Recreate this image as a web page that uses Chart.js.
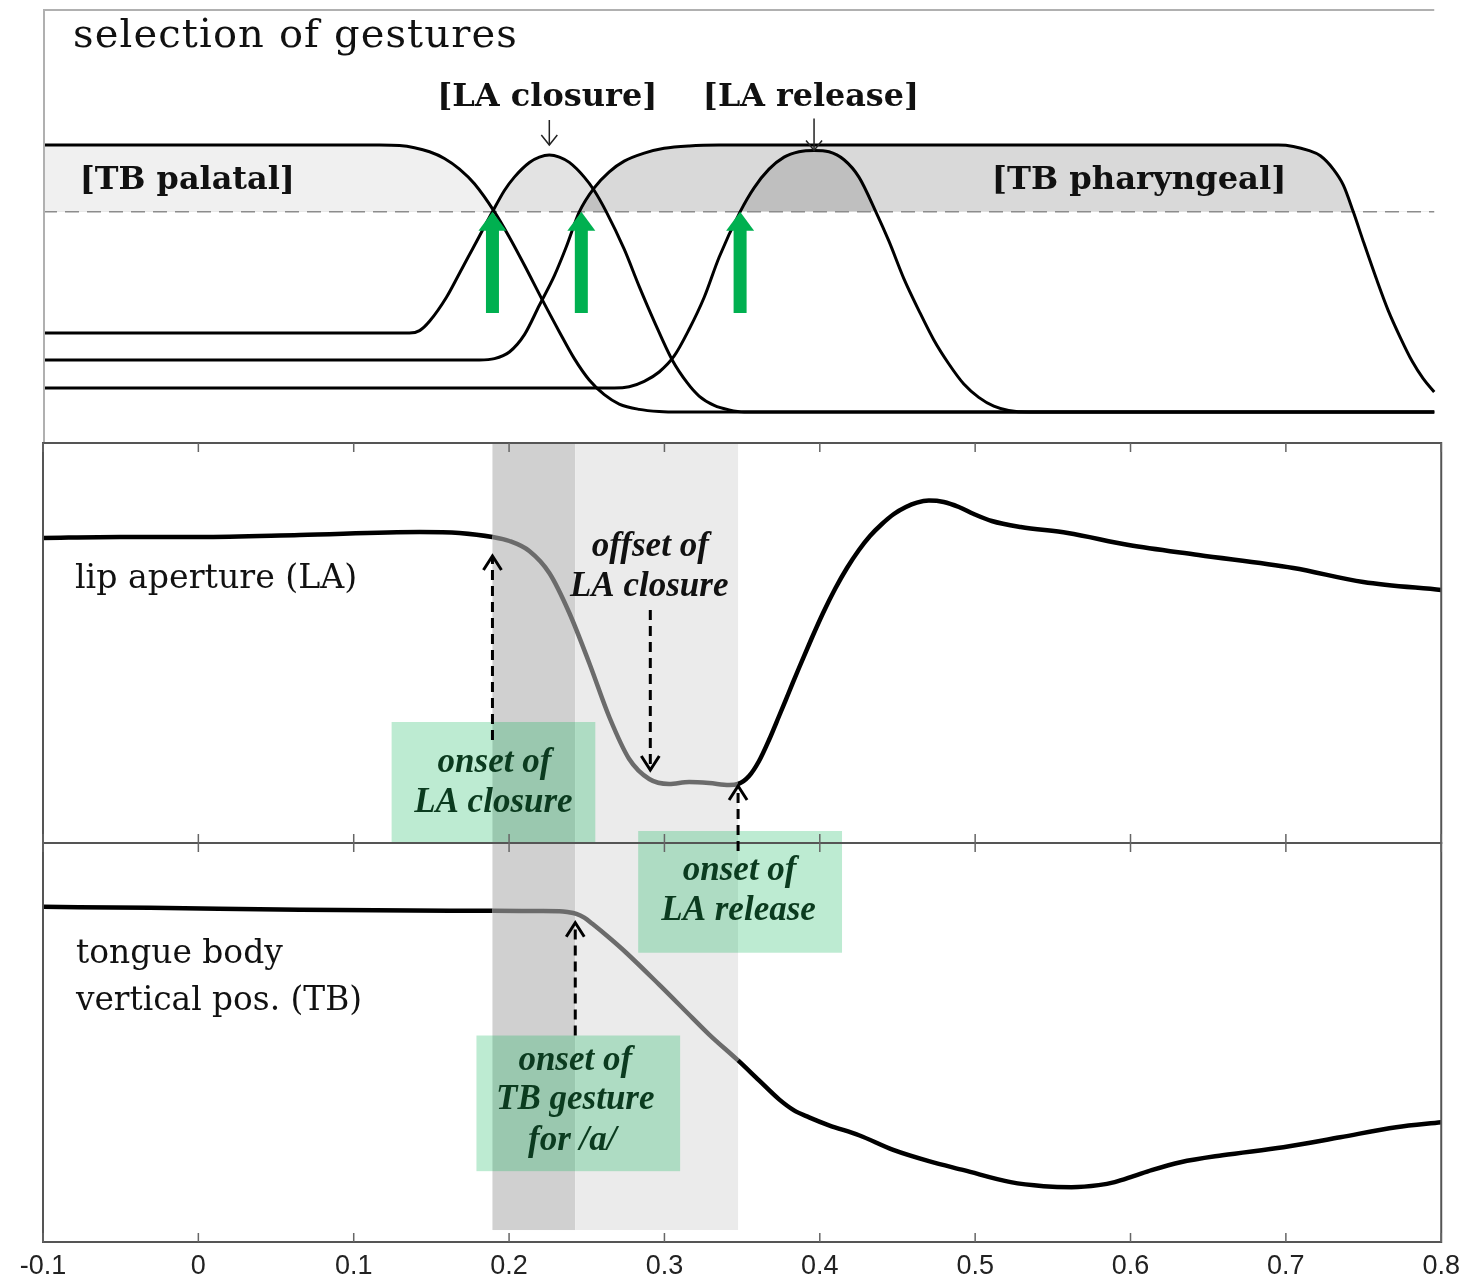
<!DOCTYPE html>
<html>
<head>
<meta charset="utf-8">
<title>selection of gestures</title>
<script src="https://cdn.jsdelivr.net/npm/chart.js@4.4.1/dist/chart.umd.min.js"></script>
<style>
  html, body { margin: 0; padding: 0; background: #fff; }
</style>
</head>
<body>
<canvas id="gestures" width="1468" height="1280"></canvas>
<script>
// time axis (s)
var timeTicks = [-0.1, 0, 0.1, 0.2, 0.3, 0.4, 0.5, 0.6, 0.7, 0.8];

// top panel: gestural activation curves (0 = inactive, 1 = fully active)
var palatalTime = [-0.1, 0.1166, 0.1295, 0.1391, 0.1488, 0.1584, 0.1681, 0.1777, 0.1906, 0.2002, 0.2099, 0.2214, 0.2324, 0.2420, 0.2516, 0.2613, 0.2709, 0.2838, 0.2966, 0.3095, 0.7955];
var palatalAct  = [1.0, 1.0, 0.998, 0.99, 0.975, 0.95, 0.91, 0.855, 0.75, 0.655, 0.55, 0.42, 0.30, 0.20, 0.12, 0.065, 0.03, 0.01, 0.002, 0, 0];

var closureTime = [-0.1, 0.1359, 0.1424, 0.1488, 0.1597, 0.1681, 0.1764, 0.1893, 0.1970, 0.2034, 0.2131, 0.2195, 0.2259, 0.2324, 0.2388, 0.2484, 0.2548, 0.2626, 0.2741, 0.2838, 0.2934, 0.3050, 0.3146, 0.3223, 0.3320, 0.3416, 0.3513, 0.7955];
var closureAct  = [0.296, 0.296, 0.305, 0.34, 0.43, 0.52, 0.61, 0.75, 0.83, 0.88, 0.935, 0.955, 0.963, 0.955, 0.935, 0.88, 0.83, 0.75, 0.61, 0.47, 0.34, 0.195, 0.11, 0.06, 0.025, 0.008, 0, 0];

var pharyngealTime = [-0.1, 0.1809, 0.1906, 0.2002, 0.2099, 0.2195, 0.2291, 0.2369, 0.2452, 0.2548, 0.2645, 0.2741, 0.2870, 0.2998, 0.3159, 0.3352, 0.6952, 0.7048, 0.7145, 0.7222, 0.7305, 0.7370, 0.7434, 0.7498, 0.7582, 0.7659, 0.7736, 0.7813, 0.7884, 0.7955];
var pharyngealAct  = [0.195, 0.195, 0.20, 0.225, 0.29, 0.40, 0.51, 0.62, 0.75, 0.84, 0.90, 0.94, 0.97, 0.988, 0.997, 1.0, 1.0, 0.995, 0.98, 0.96, 0.91, 0.85, 0.75, 0.64, 0.50, 0.38, 0.28, 0.19, 0.125, 0.075];

var releaseTime = [-0.1, 0.2677, 0.2773, 0.2870, 0.2966, 0.3063, 0.3159, 0.3256, 0.3352, 0.3487, 0.3577, 0.3673, 0.3770, 0.3866, 0.3963, 0.4059, 0.4156, 0.4252, 0.4361, 0.4445, 0.4541, 0.4638, 0.4734, 0.4831, 0.4927, 0.5023, 0.5120, 0.5216, 0.5345, 0.7955];
var releaseAct  = [0.09, 0.09, 0.095, 0.115, 0.15, 0.21, 0.31, 0.43, 0.58, 0.75, 0.84, 0.91, 0.955, 0.975, 0.98, 0.975, 0.945, 0.88, 0.75, 0.64, 0.50, 0.38, 0.27, 0.18, 0.105, 0.055, 0.022, 0.006, 0, 0];

var thresholdTime = [-0.1, 0.7955];
var thresholdAct  = [0.75, 0.75];

// middle panel: lip aperture
var lipTime = [-0.1, -0.0505, 0.0009, 0.0652, 0.1424, 0.168, 0.1893, 0.2002, 0.213, 0.2259, 0.2388, 0.2516, 0.2645, 0.2773, 0.2902, 0.303, 0.3159, 0.3288, 0.3416, 0.3474, 0.3545, 0.3609, 0.3673, 0.3738, 0.3802, 0.3866, 0.3943, 0.4021, 0.4098, 0.4175, 0.4252, 0.4323, 0.4400, 0.4477, 0.4554, 0.4625, 0.4702, 0.4798, 0.4895, 0.4991, 0.5107, 0.5293, 0.5596, 0.5988, 0.6438, 0.7048, 0.7498, 0.8];
var lipAperture = [76.25, 76.5, 76.5, 77, 77.75, 77.5, 76.5, 75.5, 73, 67.5, 57.5, 45, 31.5, 21, 16, 14.75, 15.25, 15, 14.5, 14.75, 16.75, 20.5, 25.75, 31.75, 37.75, 43.75, 50.75, 57.5, 63.5, 68.75, 73.25, 76.75, 79.75, 82.25, 84, 85.1, 85.6, 85.25, 84, 82.25, 80.5, 79, 77.5, 74.5, 72, 68.75, 65.25, 63.25];

// bottom panel: tongue body vertical position
var tongueTime = [-0.1, -0.0312, 0.0652, 0.1616, 0.1893, 0.2195, 0.2324, 0.2375, 0.2433, 0.2484, 0.2536, 0.2645, 0.2754, 0.2966, 0.3178, 0.3288, 0.3474, 0.3609, 0.3738, 0.3834, 0.3931, 0.4059, 0.4252, 0.4477, 0.4702, 0.4927, 0.5229, 0.5441, 0.5621, 0.5795, 0.5898, 0.6020, 0.6136, 0.6322, 0.6592, 0.6984, 0.7350, 0.7710, 0.8];
var tongueBody = [84, 83.75, 83.25, 83, 83, 82.95, 82.9, 82.7, 82.25, 81.3, 79.75, 76.25, 72.5, 64.5, 56.25, 52, 45.5, 40.5, 35.75, 33, 31.25, 29.25, 26.75, 23, 20.25, 18, 15, 14, 13.75, 14.25, 15, 16.5, 18, 20, 21.75, 23.75, 26.25, 28.75, 30];

// shaded intervals (s)
var closureOnset = 0.1893, tbOnset = 0.2426, releaseOnset = 0.3474;

function pairUp(ts, vs) {
    return ts.map(function (t, i) { return {x: t, y: vs[i]}; });
}

function traceColor(ctx) {
    var x = ctx.p0.parsed.x;
    return (x >= closureOnset - 1e-6 && x < releaseOnset - 1e-6) ? '#6b6b6b' : '#000';
}

var serif = "'DejaVu Serif', serif";
var timesLike = "'Liberation Serif', serif";
var darkGreen = '#0b3b1f';

var labels = [
    {text: 'selection of gestures', t: -0.0807, axis: 'yTop', v: 1.408, align: 'left', font: 'normal 40px ' + serif, spread: 445},
    {text: '[LA closure]', t: 0.2246, axis: 'yTop', v: 1.176, align: 'center', font: 'bold', family: serif, fit: 220},
    {text: '[LA release]', t: 0.3943, axis: 'yTop', v: 1.176, align: 'center', font: 'bold', family: serif, fit: 216},
    {text: '[TB palatal]', t: -0.0071, axis: 'yTop', v: 0.866, align: 'center', font: 'bold', family: serif, fit: 215},
    {text: '[TB pharyngeal]', t: 0.6055, axis: 'yTop', v: 0.866, align: 'center', font: 'bold', family: serif, fit: 295},
    {text: 'lip aperture (LA)', t: -0.0794, axis: 'yLA', v: 66, align: 'left', font: 'normal', family: serif, fit: 282},
    {text: 'offset of', t: 0.2909, axis: 'yLA', v: 74, align: 'center', font: 'italic bold 35px ' + timesLike},
    {text: 'LA closure', t: 0.2902, axis: 'yLA', v: 64, align: 'center', font: 'italic bold 35px ' + timesLike},
    {text: 'onset of', t: 0.1906, axis: 'yLA', v: 20, align: 'center', font: 'italic bold 35px ' + timesLike, color: darkGreen},
    {text: 'LA closure', t: 0.1899, axis: 'yLA', v: 10, align: 'center', font: 'italic bold 35px ' + timesLike, color: darkGreen},
    {text: 'onset of', t: 0.3484, axis: 'yTB', v: 93, align: 'center', font: 'italic bold 35px ' + timesLike, color: darkGreen},
    {text: 'LA release', t: 0.3477, axis: 'yTB', v: 83, align: 'center', font: 'italic bold 35px ' + timesLike, color: darkGreen},
    {text: 'tongue body', t: -0.0788, axis: 'yTB', v: 72, align: 'left', font: 'normal', family: serif, fit: 207},
    {text: 'vertical pos. (TB)', t: -0.0788, axis: 'yTB', v: 60.25, align: 'left', font: 'normal', family: serif, fit: 286},
    {text: 'onset of', t: 0.2426, axis: 'yTB', v: 45.5, align: 'center', font: 'italic bold 35px ' + timesLike, color: darkGreen},
    {text: 'TB gesture', t: 0.2426, axis: 'yTB', v: 35.5, align: 'center', font: 'italic bold 35px ' + timesLike, color: darkGreen},
    {text: 'for /a/', t: 0.2407, axis: 'yTB', v: 25.25, align: 'center', font: 'italic bold 35px ' + timesLike, color: darkGreen}
];

var greenBoxes = [
    {t0: 0.1244, t1: 0.2555, top: ['yLA', 30.25], bottom: ['yLA', 0]},
    {t0: 0.2831, t1: 0.4143, top: ['yLA', 3], bottom: ['yTB', 72.5]},
    {t0: 0.179, t1: 0.3101, top: ['yTB', 51.75], bottom: ['yTB', 17.75]}
];

// dashed arrows: head at "to"
var dashedArrows = [
    {t: 0.1893, from: ['yLA', 25.75], to: ['yLA', 71.75]},
    {t: 0.2909, from: ['yLA', 58.25], to: ['yLA', 18.25]},
    {t: 0.3474, from: ['yTB', 98], to: ['yLA', 14.25]},
    {t: 0.2426, from: ['yTB', 51.75], to: ['yTB', 80]}
];

var greenArrows = [0.1893, 0.2465, 0.3487];
var pointerArrows = [{t: 0.2259, from: 1.094, to: 1.0}, {t: 0.3963, from: 1.10, to: 0.98}];

function yPix(chart, ref) {
    return chart.scales[ref[0]].getPixelForValue(ref[1]);
}

function chevron(ctx, x, y, dir) {
    // dir = -1 points up, 1 points down
    ctx.beginPath();
    ctx.moveTo(x - 9, y - dir * 14);
    ctx.lineTo(x, y);
    ctx.lineTo(x + 9, y - dir * 14);
    ctx.stroke();
}

var decorations = {
    id: 'decorations',
    beforeDatasetsDraw: function (chart) {
        var ctx = chart.ctx, xs = chart.scales.x;
        var top = chart.scales.yLA.top, bottom = chart.scales.yTB.getPixelForValue(3);
        ctx.save();
        ctx.fillStyle = '#d0d0d0';
        ctx.fillRect(xs.getPixelForValue(closureOnset), top, xs.getPixelForValue(tbOnset) - xs.getPixelForValue(closureOnset), bottom - top);
        ctx.fillStyle = '#ebebeb';
        ctx.fillRect(xs.getPixelForValue(tbOnset), top, xs.getPixelForValue(releaseOnset) - xs.getPixelForValue(tbOnset), bottom - top);
        ctx.restore();
    },
    afterDatasetsDraw: function (chart) {
        var ctx = chart.ctx, xs = chart.scales.x, area = chart.chartArea;
        var yTop = chart.scales.yTop, yLA = chart.scales.yLA, yTB = chart.scales.yTB;
        ctx.save();

        // green boxes
        ctx.fillStyle = 'rgba(0,176,80,0.26)';
        greenBoxes.forEach(function (b) {
            var x0 = xs.getPixelForValue(b.t0), x1 = xs.getPixelForValue(b.t1);
            var y0 = yPix(chart, b.top), y1 = yPix(chart, b.bottom);
            ctx.fillRect(x0, y0, x1 - x0, y1 - y0);
        });

        // top panel frame
        var rightEnd = xs.getPixelForValue(0.7955);
        ctx.strokeStyle = '#b0b0b0';
        ctx.lineWidth = 2;
        ctx.beginPath();
        ctx.moveTo(area.left + 1, yTop.bottom);
        ctx.lineTo(area.left + 1, area.top);
        ctx.lineTo(rightEnd, area.top);
        ctx.stroke();

        // lower panel frames and inward ticks
        ctx.strokeStyle = '#555';
        ctx.lineWidth = 2;
        ctx.strokeRect(area.left, yLA.top, area.right - area.left, yLA.bottom - yLA.top);
        ctx.strokeRect(area.left, yTB.top, area.right - area.left, yTB.bottom - yTB.top);
        ctx.lineWidth = 1.5;
        ctx.strokeStyle = '#666';
        timeTicks.forEach(function (t) {
            var x = xs.getPixelForValue(t);
            [yLA, yTB].forEach(function (s) {
                ctx.beginPath();
                ctx.moveTo(x, s.top);
                ctx.lineTo(x, s.top + 9);
                ctx.moveTo(x, s.bottom);
                ctx.lineTo(x, s.bottom - 9);
                ctx.stroke();
            });
        });

        // green onset arrows in the top panel
        ctx.fillStyle = '#00b050';
        greenArrows.forEach(function (t) {
            var x = xs.getPixelForValue(t);
            var tip = yTop.getPixelForValue(0.75), tail = yTop.getPixelForValue(0.371);
            ctx.fillRect(x - 6.5, tip + 18, 13, tail - tip - 18);
            ctx.beginPath();
            ctx.moveTo(x - 14, tip + 19);
            ctx.lineTo(x, tip);
            ctx.lineTo(x + 14, tip + 19);
            ctx.closePath();
            ctx.fill();
        });

        // thin pointers to the peaks
        ctx.strokeStyle = '#222';
        ctx.lineWidth = 1.5;
        pointerArrows.forEach(function (a) {
            var x = xs.getPixelForValue(a.t);
            var y0 = yTop.getPixelForValue(a.from), y1 = yTop.getPixelForValue(a.to);
            ctx.beginPath();
            ctx.moveTo(x, y0);
            ctx.lineTo(x, y1);
            ctx.stroke();
            ctx.beginPath();
            ctx.moveTo(x - 8, y1 - 10);
            ctx.lineTo(x, y1);
            ctx.lineTo(x + 8, y1 - 10);
            ctx.stroke();
        });

        // dashed arrows
        ctx.strokeStyle = '#000';
        ctx.lineWidth = 3;
        dashedArrows.forEach(function (a) {
            var x = xs.getPixelForValue(a.t);
            var y0 = yPix(chart, a.from), y1 = yPix(chart, a.to);
            var dir = y1 > y0 ? 1 : -1;
            ctx.setLineDash([10, 6]);
            ctx.beginPath();
            ctx.moveTo(x, y0);
            ctx.lineTo(x, y1 - dir * 2);
            ctx.stroke();
            ctx.setLineDash([]);
            chevron(ctx, x, y1, dir);
        });

        // text
        ctx.textBaseline = 'middle';
        labels.forEach(function (l) {
            var x = xs.getPixelForValue(l.t);
            var y = chart.scales[l.axis].getPixelForValue(l.v);
            if (l.fit) {
                ctx.font = l.font + ' 40px ' + l.family;
                var w = ctx.measureText(l.text).width;
                ctx.font = l.font + ' ' + (40 * l.fit / w).toFixed(1) + 'px ' + l.family;
            } else {
                ctx.font = l.font;
            }
            if (l.spread) {
                var w0 = ctx.measureText(l.text).width;
                ctx.letterSpacing = ((l.spread - w0) / l.text.length).toFixed(2) + 'px';
            }
            ctx.textAlign = l.align;
            ctx.fillStyle = l.color || '#111';
            ctx.fillText(l.text, x, y);
            ctx.letterSpacing = '0px';
        });

        ctx.restore();
    }
};

var hiddenY = function (min, max, weight) {
    return {
        type: 'linear',
        position: 'left',
        stack: 'panels',
        stackWeight: weight,
        min: min,
        max: max,
        ticks: {display: false},
        grid: {display: false, drawTicks: false},
        border: {display: false},
        afterFit: function (s) { s.width = 0; }
    };
};

var activation = function (label, ts, vs, shade) {
    return {
        label: label,
        data: pairUp(ts, vs),
        yAxisID: 'yTop',
        borderColor: '#000',
        borderWidth: 3,
        pointRadius: 0,
        cubicInterpolationMode: 'monotone',
        fill: {target: {value: 0.75}, above: shade, below: 'rgba(0,0,0,0)'}
    };
};

var ctx = document.getElementById('gestures').getContext('2d');
var chart = new Chart(ctx, {
    type: 'line',
    data: {
        datasets: [
            activation('[TB palatal]', palatalTime, palatalAct, 'rgba(0,0,0,0.06)'),
            activation('[LA closure]', closureTime, closureAct, 'rgba(0,0,0,0.11)'),
            activation('[TB pharyngeal]', pharyngealTime, pharyngealAct, 'rgba(0,0,0,0.15)'),
            activation('[LA release]', releaseTime, releaseAct, 'rgba(0,0,0,0.12)'),
            {
                label: 'lip aperture (LA)',
                data: pairUp(lipTime, lipAperture),
                yAxisID: 'yLA',
                borderColor: '#000',
                borderWidth: 4.5,
                pointRadius: 0,
                cubicInterpolationMode: 'monotone',
                segment: {borderColor: traceColor}
            },
            {
                label: 'tongue body vertical pos. (TB)',
                data: pairUp(tongueTime, tongueBody),
                yAxisID: 'yTB',
                borderColor: '#000',
                borderWidth: 4.5,
                pointRadius: 0,
                cubicInterpolationMode: 'monotone',
                segment: {borderColor: traceColor}
            },
            {
                label: 'threshold',
                data: pairUp(thresholdTime, thresholdAct),
                yAxisID: 'yTop',
                borderColor: '#8c8c8c',
                borderWidth: 1.5,
                borderDash: [14, 8],
                pointRadius: 0,
                fill: false
            }
        ]
    },
    options: {
        responsive: false,
        animation: false,
        layout: {padding: {left: 43, right: 25, top: 10, bottom: 0}},
        plugins: {
            legend: {display: false},
            tooltip: {enabled: false},
            filler: {drawTime: 'beforeDatasetsDraw'}
        },
        scales: {
            x: {
                type: 'linear',
                position: 'bottom',
                min: -0.1,
                max: 0.8,
                grid: {display: false, drawTicks: false},
                border: {display: false},
                afterBuildTicks: function (s) {
                    s.ticks = timeTicks.map(function (v) { return {value: v}; });
                },
                ticks: {
                    padding: 8,
                    maxRotation: 0,
                    autoSkip: false,
                    color: '#222',
                    font: {family: "'Liberation Sans', Arial, sans-serif", size: 27},
                    callback: function (v) { return String(Math.round(v * 10) / 10); }
                },
                afterFit: function (s) { s.height = 38; }
            },
            yTB: hiddenY(0, 100, 399),
            yLA: hiddenY(0, 100, 400),
            yTop: hiddenY(-0.116, 1.506, 433)
        }
    },
    plugins: [decorations]
});
</script>
</body>
</html>
